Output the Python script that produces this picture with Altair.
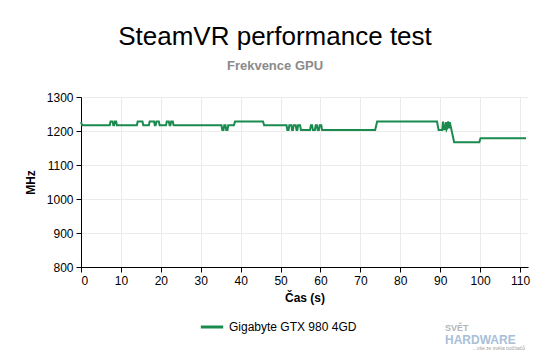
import altair as alt
import pandas as pd

# Time (s) and GPU clock (MHz)
time_s = [0, 0.3,
          7.2, 7.4, 7.9, 8.1, 8.3, 8.5, 8.8, 9.0,
          14.0, 14.2, 15.4, 15.6,
          17.0, 17.2, 18.3, 18.5, 18.7, 18.9, 19.5, 19.7,
          21.3, 21.5, 22.0, 22.2, 22.4, 22.6, 23.0, 23.2,
          35.2, 35.4, 35.7, 35.9, 36.2, 36.4, 36.7, 36.9,
          38.3, 38.6, 45.6, 45.9,
          51.5, 51.7, 52.0, 52.2, 52.7, 52.9, 53.1, 53.3, 53.8, 54.0, 54.2, 54.4,
          54.9, 55.1, 57.4, 57.6, 57.9, 58.1, 58.6, 58.8, 59.1, 59.3, 59.6, 59.8,
          60.2, 60.4,
          73.7, 74.2, 89.2, 89.6, 90.5, 90.7, 90.9, 91.2, 91.4, 91.6, 91.8, 92.0,
          92.2, 92.4, 92.7, 93.5, 99.8, 100.1, 111.5]
mhz = [1226, 1217,
       1217, 1228, 1228, 1217, 1217, 1228, 1228, 1217,
       1217, 1228, 1228, 1217,
       1217, 1228, 1228, 1217, 1217, 1228, 1228, 1217,
       1217, 1228, 1228, 1217, 1217, 1228, 1228, 1217,
       1217, 1203, 1203, 1217, 1217, 1203, 1203, 1217,
       1217, 1228, 1228, 1217,
       1217, 1203, 1203, 1217, 1217, 1203, 1203, 1217, 1217, 1203, 1203, 1217,
       1217, 1203, 1203, 1217, 1217, 1203, 1203, 1217, 1217, 1203, 1203, 1217,
       1217, 1203,
       1203, 1228, 1228, 1203, 1203, 1228, 1205, 1205, 1226, 1205, 1210, 1228,
       1208, 1226, 1210, 1167, 1167, 1179, 1179]
series_name = "Gigabyte GTX 980 4GD"
x_ticks = [0, 10, 20, 30, 40, 50, 60, 70, 80, 90, 100, 110]
y_ticks = [800, 900, 1000, 1100, 1200, 1300]

title = "SteamVR performance test"
subtitle = "Frekvence GPU"

df = pd.DataFrame({"t": time_s, "v": mhz, "s": [series_name] * len(time_s)})

FONT = "Liberation Sans"
W, H = 447, 170

line = alt.Chart(df).mark_line(strokeWidth=2).encode(
    x=alt.X("t:Q", scale=alt.Scale(domain=[0, 112], nice=False),
            axis=alt.Axis(values=x_ticks, title="Čas (s)", titleX=W / 2, titleY=30,
                          titleBaseline="middle", labelPadding=3, format="d")),
    y=alt.Y("v:Q", scale=alt.Scale(domain=[800, 1300], nice=False),
            axis=alt.Axis(values=y_ticks, title="MHz", titleX=-51, titleY=H / 2,
                          titleBaseline="middle", titleAlign="center", labelPadding=3,
                          format="d")),
    color=alt.Color("s:N", scale=alt.Scale(range=["#1a8a4f"]),
                    legend=alt.Legend(title=None, orient="none", legendX=118, legendY=217,
                                      symbolType="stroke", symbolSize=500,
                                      symbolStrokeWidth=3, labelFontSize=12,
                                      labelFont=FONT, labelColor="#000")),
)

title_mark = alt.Chart(pd.DataFrame({"label": [title]})).mark_text(
    font=FONT, fontSize=26, color="#000", align="center", baseline="alphabetic"
).encode(text="label:N", x=alt.value(194), y=alt.value(-52))

subtitle_mark = alt.Chart(pd.DataFrame({"label": [subtitle]})).mark_text(
    font=FONT, fontSize=13, fontWeight="bold", color="#8a8a8a", align="center",
    baseline="alphabetic"
).encode(text="label:N", x=alt.value(194), y=alt.value(-27))

wm1 = alt.Chart(pd.DataFrame({"label": ["SVĚT"]})).mark_text(
    font=FONT, fontSize=9, fontWeight="bold", color="#b5b5b5", align="left",
    baseline="middle"
).encode(text="label:N", x=alt.value(364), y=alt.value(231))
wm2 = alt.Chart(pd.DataFrame({"label": ["HARDWARE"]})).mark_text(
    font=FONT, fontSize=12, fontWeight="bold", color="#a9c0d8", align="left",
    baseline="middle"
).encode(text="label:N", x=alt.value(364), y=alt.value(242.5))
wm3 = alt.Chart(pd.DataFrame({"label": ["...vše ze světa počítačů"]})).mark_text(
    font=FONT, fontSize=5, color="#a0a0a0", align="right", baseline="middle"
).encode(text="label:N", x=alt.value(444), y=alt.value(251))

chart = alt.layer(line, title_mark, subtitle_mark, wm1, wm2, wm3).properties(
    width=W, height=H,
    autosize=alt.AutoSizeParams(type="none"),
    padding={"left": 81, "top": 97, "right": 22, "bottom": 83},
    background="white",
).configure_view(stroke=None).configure_axis(
    labelFont=FONT, labelFontSize=12, labelColor="#000",
    titleFont=FONT, titleFontSize=12, titleFontWeight="bold", titleColor="#000",
    domainColor="#000", domainWidth=1, tickColor="#000", tickSize=5,
    gridColor="#ebebeb", gridWidth=1,
)

chart.save("out.html", embed_options={"renderer": "svg", "actions": False})
